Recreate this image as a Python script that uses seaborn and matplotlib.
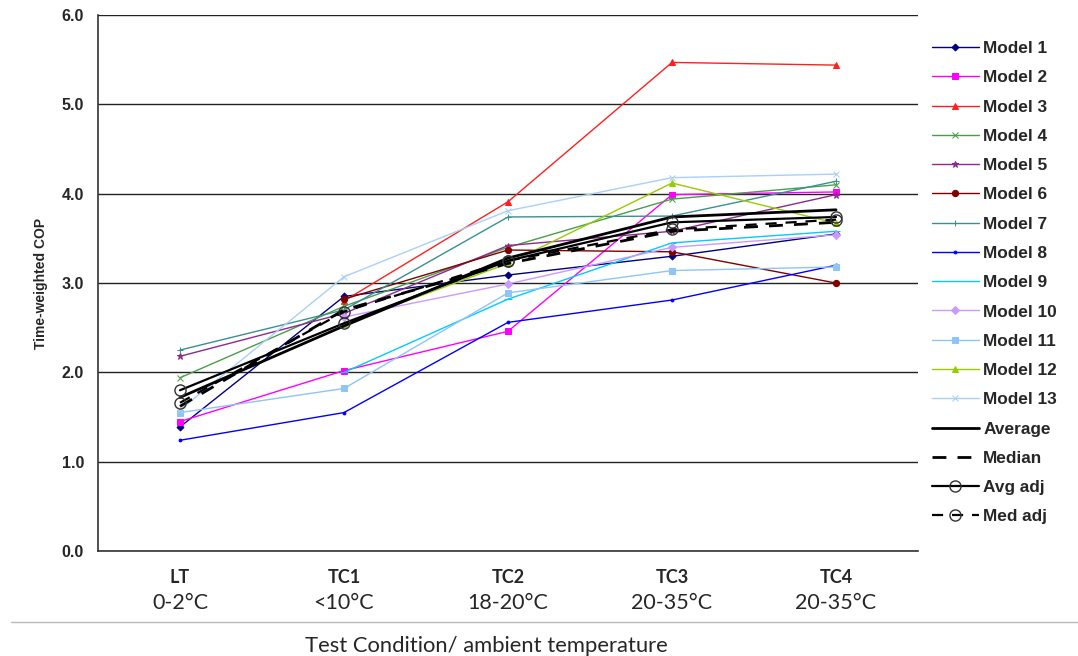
import numpy as np
import pandas as pd
import matplotlib
matplotlib.use('Agg')
import matplotlib.pyplot as plt
import seaborn as sns

# Data
conditions = ['LT', 'TC1', 'TC2', 'TC3', 'TC4']
temps = ['0-2°C', '<10°C', '18-20°C', '20-35°C', '20-35°C']
nan = np.nan

model_1 = [1.39, 2.85, 3.09, 3.30, 3.55]
model_2 = [1.45, 2.02, 2.46, 3.99, 4.02]
model_3 = [nan, 2.80, 3.91, 5.47, 5.44]
model_4 = [1.94, 2.74, 3.40, 3.94, 4.10]
model_5 = [2.18, 2.66, 3.42, 3.58, 3.99]
model_6 = [nan, 2.82, 3.37, 3.35, 3.00]
model_7 = [2.25, 2.70, 3.74, 3.75, 4.14]
model_8 = [1.24, 1.55, 2.56, 2.81, 3.20]
model_9 = [nan, 2.00, 2.82, 3.45, 3.58]
model_10 = [nan, 2.62, 2.99, 3.40, 3.54]
model_11 = [1.55, 1.82, 2.89, 3.14, 3.18]
model_12 = [nan, 2.54, 3.22, 4.12, 3.67]
model_13 = [1.58, 3.07, 3.81, 4.18, 4.22]
average = [1.72, 2.52, 3.28, 3.74, 3.82]
median = [1.62, 2.70, 3.22, 3.58, 3.68]
avg_adj = [1.80, 2.55, 3.25, 3.68, 3.74]
med_adj = [1.66, 2.68, 3.25, 3.60, 3.71]

series = [
    ('Model 1', model_1, '#000080', 'D', 3.5, '-', 1.0),
    ('Model 2', model_2, '#FF00FF', 's', 5, '-', 1.0),
    ('Model 3', model_3, '#FF2020', '^', 5, '-', 1.0),
    ('Model 4', model_4, '#4A9E4A', 'x', 4, '-', 1.0),
    ('Model 5', model_5, '#8E2A8E', '*', 5, '-', 1.0),
    ('Model 6', model_6, '#800000', 'o', 4.5, '-', 1.0),
    ('Model 7', model_7, '#3A9090', '+', 5, '-', 1.0),
    ('Model 8', model_8, '#0000FF', '.', 4, '-', 1.0),
    ('Model 9', model_9, '#00CCFF', '_', 6, '-', 1.0),
    ('Model 10', model_10, '#CC99FF', 'D', 4, '-', 1.0),
    ('Model 11', model_11, '#8FC4F5', 's', 5, '-', 1.0),
    ('Model 12', model_12, '#99CC00', '^', 5, '-', 1.0),
    ('Model 13', model_13, '#A8D0F8', 'x', 4, '-', 1.0),
    ('Average', average, '#000000', None, 0, '-', 2.0),
    ('Median', median, '#000000', None, 0, (0, (5, 4)), 2.0),
    ('Avg adj', avg_adj, '#000000', 'o', 8, '-', 1.6),
    ('Med adj', med_adj, '#000000', 'o', 8, (0, (5, 4)), 1.6),
]

sns.set_style('white')
plt.rcParams['font.family'] = ['Liberation Sans', 'DejaVu Sans']

fig = plt.figure(figsize=(10.78, 6.56), dpi=100)
ax = fig.add_axes([0.0909, 0.160, 0.7607, 0.817])

x_idx = np.arange(len(conditions))
for name, vals, color, marker, ms, ls, lw in series:
    df = pd.DataFrame({'x': x_idx, 'y': vals}).dropna()
    kw = dict(color=color, linewidth=lw, linestyle=ls, label=name)
    if marker is not None:
        kw.update(marker=marker, markersize=ms)
        if name.endswith('adj'):
            kw.update(markerfacecolor='none', markeredgecolor='#333333', markeredgewidth=1.0)
        else:
            kw.update(markeredgecolor=color)
    sns.lineplot(data=df, x='x', y='y', ax=ax, estimator=None, errorbar=None, **kw)

# axes styling
ax.set_xlim(-0.5, len(conditions) - 0.5)
ax.set_ylim(0, 6)
ax.set_yticks(np.arange(0, 6.01, 1.0))
ax.set_yticklabels([f'{v:.1f}' for v in np.arange(0, 6.01, 1.0)], fontsize=11.5, fontweight='bold')
ax.yaxis.grid(True, color='#222222', linewidth=1.0)
ax.set_axisbelow(True)
for side in ['top', 'right']:
    ax.spines[side].set_visible(False)
for side in ['left', 'bottom']:
    ax.spines[side].set_color('#333333')
    ax.spines[side].set_linewidth(1.2)
ax.tick_params(axis='y', direction='out', length=5, color='#333333', pad=5)
ax.set_xticks(x_idx)
ax.set_xticklabels([])
ax.tick_params(axis='x', which='major', length=0)
ax.set_xticks(np.arange(0.5, len(conditions) - 0.5, 1.0), minor=True)
ax.tick_params(axis='x', which='minor', direction='out', length=5, color='#333333')
ax.set_xlabel('')
ax.set_ylabel('Time-weighted COP', fontsize=10, fontweight='bold', labelpad=10)

# two-line category labels
lab_fam = ['Lato', 'DejaVu Sans']
for i, (c, t) in enumerate(zip(conditions, temps)):
    ax.text(i, -0.30, c, ha='center', va='center', fontsize=13, fontweight='bold',
            family=lab_fam, transform=ax.transData, clip_on=False)
    ax.text(i, -0.58, t, ha='center', va='center', fontsize=15.5,
            family=lab_fam, transform=ax.transData, clip_on=False)

fig.add_artist(plt.Line2D([0.01, 1.0], [0.052, 0.052], color='#BBBBBB', linewidth=1.0))
fig.text(0.451, 0.016, 'Test Condition/ ambient temperature', ha='center', va='center',
         fontsize=15.8, family=lab_fam)

handles, labels = ax.get_legend_handles_labels()
if ax.get_legend() is not None:
    ax.get_legend().remove()
fig.legend(handles, labels, loc='upper left', bbox_to_anchor=(0.850, 0.961),
           frameon=False, prop={'size': 12.4, 'weight': 'bold'}, labelspacing=0.825,
           handlelength=2.73, handletextpad=0.25)

plt.savefig('out.png', dpi=100)
plt.close()
